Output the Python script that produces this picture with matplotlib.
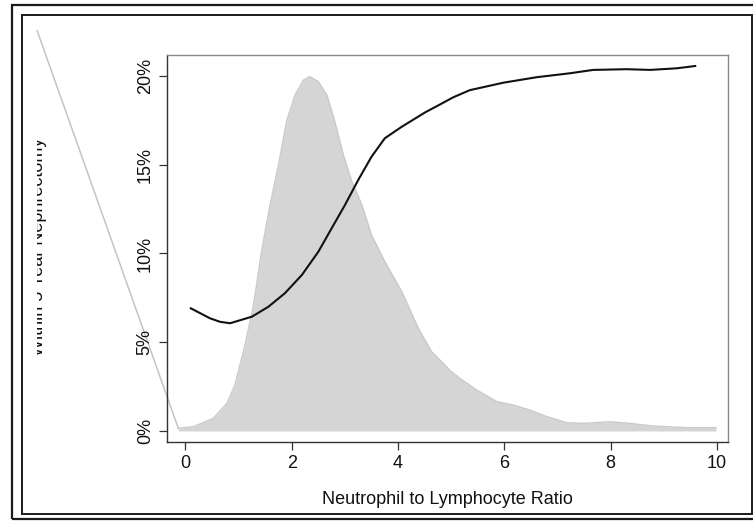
import matplotlib
matplotlib.use("Agg")
import matplotlib.pyplot as plt
from matplotlib.patches import Rectangle
from matplotlib.transforms import Bbox, TransformedBbox
from matplotlib.ticker import FuncFormatter

plt.rcParams["font.family"] = ["Liberation Sans", "DejaVu Sans"]

# smoothed 5-year risk curve (percent) vs NLR
risk_x = [0.10, 0.46, 0.65, 0.84, 1.25, 1.56, 1.87, 2.19, 2.50, 2.75, 3.00,
          3.25, 3.50, 3.75, 4.07, 4.51, 4.73, 5.04, 5.35, 5.98, 6.61, 7.23,
          7.67, 8.30, 8.74, 9.24, 9.59]
risk_y = [6.91, 6.35, 6.15, 6.07, 6.44, 7.00, 7.76, 8.79, 10.10, 11.42, 12.73,
          14.14, 15.45, 16.49, 17.14, 17.95, 18.30, 18.80, 19.20, 19.62, 19.93,
          20.15, 20.34, 20.38, 20.34, 20.43, 20.56]

# distribution of NLR (scaled density, drawn on the same axis)
dens_x = [-0.135, 0.15, 0.52, 0.78, 0.93, 1.12, 1.28, 1.43, 1.59, 1.75, 1.90,
          2.06, 2.22, 2.34, 2.50, 2.66, 2.81, 2.97, 3.13, 3.32, 3.50, 3.75,
          4.07, 4.38, 4.63, 4.88, 4.98, 5.16, 5.48, 5.86, 6.17, 6.48, 6.80,
          7.17, 7.48, 7.99, 8.36, 8.80, 9.43, 9.98]
dens_y = [0.15, 0.24, 0.71, 1.56, 2.59, 4.85, 7.10, 10.10, 12.73, 14.99, 17.43,
          18.93, 19.77, 19.96, 19.68, 18.93, 17.43, 15.55, 14.05, 12.73, 11.04,
          9.54, 7.85, 5.79, 4.47, 3.72, 3.40, 2.97, 2.31, 1.65, 1.46, 1.18,
          0.81, 0.47, 0.43, 0.52, 0.43, 0.28, 0.19, 0.19]

# stray outline segment of the density polygon that runs outside the plot
stray_x = [-2.79, -0.135]
stray_y = [22.54, 0.15]

x_ticks = [0, 2, 4, 6, 8, 10]
y_ticks = [0, 5, 10, 15, 20]

W, H = 753, 527
fig = plt.figure(figsize=(W / 100, H / 100), dpi=100)
ax = fig.add_axes([167 / W, 1 - 442 / H, (728 - 167) / W, (442 - 55) / H])

ax.fill_between(dens_x, 0, dens_y, color="#d5d5d5", lw=0, zorder=1)
ax.plot(dens_x, dens_y, color="#cacaca", lw=1.0, zorder=1.5)
ax.plot(stray_x, stray_y, color="#c4c4c4", lw=1.1, clip_on=False, zorder=1.5)
ax.plot(risk_x, risk_y, color="#111111", lw=1.5, zorder=3)

ax.set_xlim(-0.348, 10.207)
ax.set_ylim(-0.62, 21.18)
ax.set_xticks(x_ticks)
ax.set_yticks(y_ticks)
ax.yaxis.set_major_formatter(FuncFormatter(lambda v, p: f"{v:.0f}%"))

ax.tick_params(axis="both", direction="out", length=5.5, width=0.9,
               color="#333333", labelsize=13, labelcolor="#111111")
ax.tick_params(axis="x", pad=4)
ax.tick_params(axis="y", pad=4)
for lab in ax.get_yticklabels():
    lab.set_rotation(90)
    lab.set_va("center")

for side in ("left", "bottom"):
    ax.spines[side].set_color("#333333")
    ax.spines[side].set_linewidth(1.0)
for side in ("top", "right"):
    ax.spines[side].set_color("#8a8a8a")
    ax.spines[side].set_linewidth(1.0)

ax.set_xlabel("Neutrophil to Lymphocyte Ratio", fontsize=13, color="#111111",
              va="center")
ax.xaxis.set_label_coords(0.5, (442 - 499) / (442 - 55))

# y label is cut off in the source figure: keep only the part that shows
ylab = fig.text(47 / W, 1 - 247 / H, "Within 5 Year Nephrectomy",
                rotation=90, ha="right", va="center", fontsize=13,
                color="#111111")
clip = TransformedBbox(Bbox([[37 / W, 0], [120 / W, 1]]), fig.transFigure)
ylab.set_clip_box(clip)
ylab.set_clip_on(True)

# double frame around the figure
def px_rect(x0, y0, x1, y1, lw):
    r = Rectangle((x0 / W, 1 - y1 / H), (x1 - x0) / W, (y1 - y0) / H,
                  transform=fig.transFigure, fill=False, edgecolor="#1a1a1a",
                  lw=lw)
    fig.add_artist(r)

px_rect(12, 5, 765, 519, 1.6)
px_rect(22, 15, 752, 514, 1.4)

fig.savefig("out.png", dpi=100)
